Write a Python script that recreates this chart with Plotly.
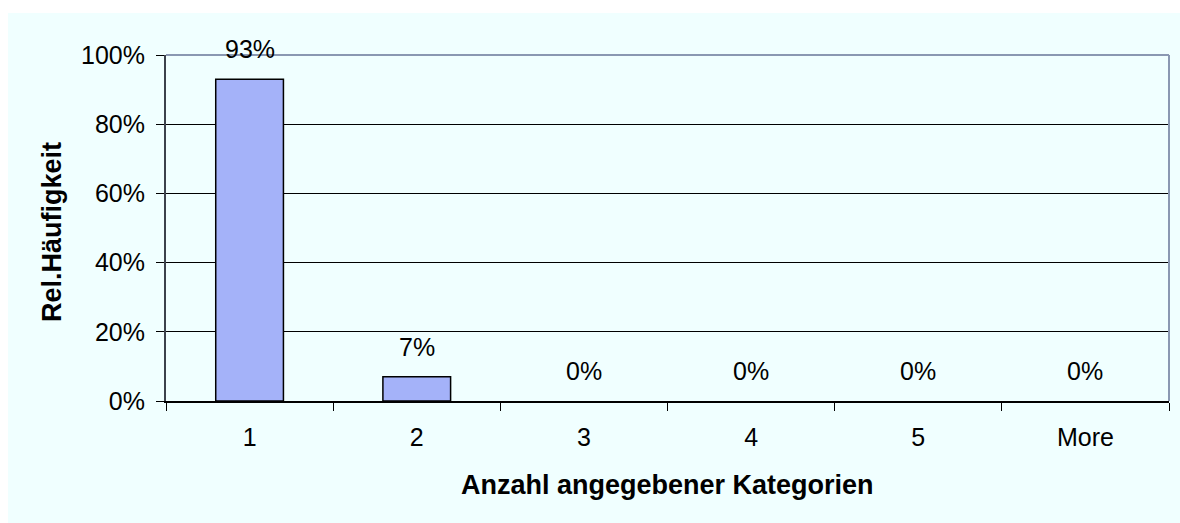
import plotly.graph_objects as go

categories = ["1", "2", "3", "4", "5", "More"]
rel_freq = [0.93, 0.07, 0.0, 0.0, 0.0, 0.0]
value_labels = ["93%", "7%", "0%", "0%", "0%", "0%"]
y_tickvals = [0, 0.2, 0.4, 0.6, 0.8, 1.0]
y_ticktext = ["0%", "20%", "40%", "60%", "80%", "100%"]

W, H = 1180, 523
L, R, T, B = 166, 11, 55, 122
pw, ph = W - L - R, H - T - B

BG = "#F0FFFF"
FONT = "Liberation Sans, Arial, sans-serif"

# no outline on zero-height bars (as in the reference)
outline_widths = [1.5 if v > 0 else 0 for v in rel_freq]

fig = go.Figure()
fig.add_trace(go.Bar(
    x=categories, y=rel_freq,
    marker=dict(color="#A4B2F9", line=dict(color="black", width=outline_widths)),
    hoverinfo="skip",
))

annotations = []
for i, (v, t) in enumerate(zip(rel_freq, value_labels)):
    annotations.append(dict(x=i, y=v, xref="x", yref="y", text=t, showarrow=False,
                            yanchor="bottom", yshift=14,
                            font=dict(size=25, color="black", family=FONT)))
annotations.append(dict(x=(667 - L) / pw, y=(H - 485 - B) / ph, xref="paper", yref="paper",
                        text="<b>Anzahl angegebener Kategorien</b>", showarrow=False,
                        xanchor="center", yanchor="middle",
                        font=dict(size=27, color="black", family=FONT)))
annotations.append(dict(x=(52 - L) / pw, y=(H - 232 - B) / ph, xref="paper", yref="paper",
                        text="<b>Rel.Häufigkeit</b>", showarrow=False, textangle=-90,
                        xanchor="center", yanchor="middle",
                        font=dict(size=27, color="black", family=FONT)))

shapes = [
    dict(type="rect", xref="paper", yref="paper", layer="below",
         x0=(8 - L) / pw, x1=(W - L) / pw + 0.01,
         y0=(H - 523 - B) / ph - 0.01, y1=(H - 13 - B) / ph,
         fillcolor=BG, line=dict(width=0)),
    dict(type="line", xref="paper", yref="paper", x0=0, x1=1, y0=1, y1=1,
         line=dict(color="#8A98B2", width=2)),
    dict(type="line", xref="paper", yref="paper", x0=1, x1=1, y0=0, y1=1,
         line=dict(color="#8A98B2", width=2)),
]

fig.update_layout(
    width=W, height=H,
    margin=dict(l=L, r=R, t=T, b=B, autoexpand=False),
    paper_bgcolor="white", plot_bgcolor=BG,
    showlegend=False, bargap=0.595,
    font=dict(family=FONT, size=25, color="black"),
    annotations=annotations, shapes=shapes,
    xaxis=dict(type="category", range=[-0.5, 5.5], tickson="boundaries",
               ticks="outside", ticklen=8, tickcolor="black", tickwidth=1,
               showline=True, linecolor="black", linewidth=1.5,
               showgrid=False, zeroline=False, ticklabelstandoff=13,
               tickfont=dict(size=25)),
    yaxis=dict(range=[0, 1.0], tickvals=y_tickvals, ticktext=y_ticktext,
               ticks="outside", ticklen=8, tickcolor="black", tickwidth=1,
               showline=True, linecolor="#3C424C", linewidth=2,
               showgrid=True, gridcolor="black", gridwidth=1,
               zeroline=False, ticklabelstandoff=6,
               tickfont=dict(size=25)),
)

fig.write_html("out.html",
               config={"displayModeBar": False, "staticPlot": True},
               post_script="document.body.style.margin='0';document.body.style.overflow='hidden';")
